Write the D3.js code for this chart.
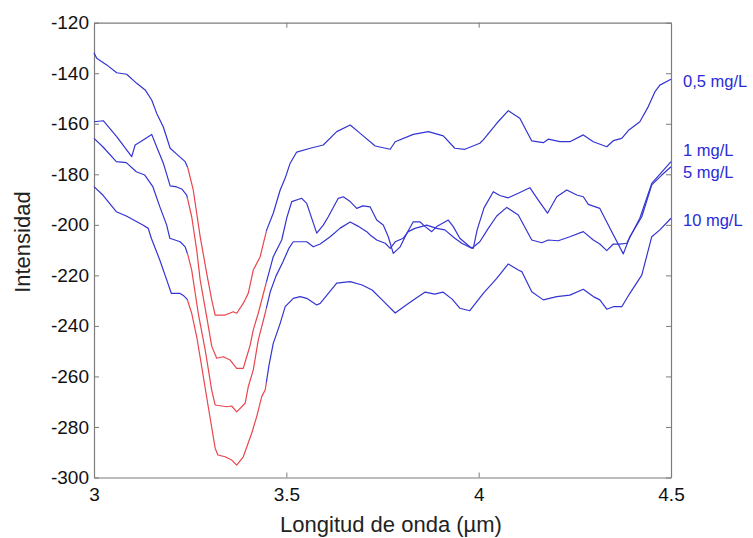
<!DOCTYPE html>
<html>
<head>
<meta charset="utf-8">
<script src="https://cdnjs.cloudflare.com/ajax/libs/d3/7.8.5/d3.min.js"></script>
<style>
  html, body { margin: 0; padding: 0; background: #fff; }
  svg { display: block; font-family: "Liberation Sans", Arial, Helvetica, sans-serif; }
</style>
</head>
<body>
<svg id="chart" width="753" height="538"></svg>
<script>
// Spectral response (intensity vs wavelength) for four concentrations.
const seriesNames = ["0,5 mg/L", "1 mg/L", "5 mg/L", "10 mg/L"];

const wavelength05 = [3.000,3.007,3.033,3.059,3.085,3.111,3.133,3.150,3.163,3.180,3.198,3.215,3.237,3.244,3.258,3.276,3.293,3.306,3.315,3.341,3.362,3.371,3.388,3.401,3.414,3.432,3.449,3.466,3.484,3.497,3.510,3.527,3.562,3.596,3.631,3.666,3.692,3.731,3.770,3.783,3.830,3.869,3.908,3.938,3.964,4.003,4.012,4.047,4.077,4.107,4.138,4.168,4.181,4.211,4.237,4.272,4.298,4.333,4.350,4.372,4.389,4.419,4.441,4.458,4.471,4.500];
const intensity05 = [-131.9,-134.1,-136.7,-139.8,-140.4,-144.0,-146.6,-150.6,-155.9,-161.2,-169.7,-172.0,-175.0,-177.5,-186.2,-204.7,-219.2,-229.7,-235.7,-235.7,-234.4,-235.0,-231.1,-227.1,-217.9,-212.6,-202.0,-195.4,-186.2,-181.5,-175.6,-171.2,-169.7,-168.4,-163.1,-160.5,-163.8,-168.8,-170.1,-167.1,-164.2,-163.1,-164.8,-169.7,-170.1,-167.7,-166.4,-159.8,-154.8,-157.8,-166.8,-167.5,-166.1,-167.1,-167.1,-164.4,-167.1,-169.1,-166.7,-165.8,-162.7,-159.2,-153.2,-147.4,-144.7,-142.4];

const wavelength1 = [3.000,3.024,3.059,3.098,3.107,3.128,3.150,3.163,3.180,3.198,3.215,3.228,3.241,3.254,3.267,3.276,3.293,3.306,3.319,3.336,3.354,3.371,3.388,3.397,3.406,3.414,3.427,3.445,3.466,3.488,3.501,3.514,3.540,3.553,3.579,3.596,3.609,3.635,3.648,3.666,3.683,3.699,3.718,3.735,3.752,3.765,3.778,3.796,3.813,3.830,3.847,3.861,3.878,3.891,3.921,3.934,3.951,3.977,3.986,3.996,4.014,4.038,4.055,4.077,4.103,4.133,4.155,4.179,4.203,4.229,4.255,4.272,4.285,4.315,4.346,4.376,4.393,4.424,4.450,4.476,4.500];
const intensity1 = [-159.2,-158.8,-165.1,-173.0,-168.4,-166.4,-164.2,-169.2,-175.5,-184.6,-185.0,-185.8,-188.2,-196.8,-210.0,-221.8,-236.4,-248.0,-252.8,-252.2,-253.5,-256.8,-256.8,-252.2,-247.6,-241.6,-235.0,-224.5,-212.6,-206.0,-197.3,-190.8,-189.5,-191.5,-203.3,-200.1,-196.8,-189.5,-188.9,-190.8,-193.5,-192.5,-192.9,-198.1,-200.1,-204.7,-211.3,-208.7,-203.4,-198.8,-198.8,-200.7,-202.7,-200.7,-198.1,-200.7,-205.3,-208.7,-209.3,-202.0,-193.3,-186.9,-188.4,-189.3,-187.5,-185.3,-190.2,-195.4,-188.9,-186.2,-188.2,-188.9,-191.9,-193.5,-202.7,-211.5,-204.7,-196.8,-184.2,-180.3,-177.0];

const wavelength5 = [3.000,3.023,3.058,3.084,3.110,3.132,3.153,3.171,3.189,3.197,3.224,3.237,3.244,3.254,3.271,3.289,3.306,3.315,3.345,3.358,3.371,3.393,3.401,3.414,3.427,3.445,3.458,3.473,3.491,3.507,3.518,3.553,3.570,3.588,3.614,3.640,3.666,3.686,3.709,3.718,3.735,3.757,3.770,3.783,3.804,3.817,3.834,3.865,3.891,3.912,3.938,3.956,3.982,4.003,4.025,4.047,4.073,4.103,4.138,4.164,4.181,4.207,4.237,4.272,4.298,4.315,4.333,4.350,4.367,4.385,4.419,4.450,4.500];
const intensity5 = [-165.8,-169.1,-175.0,-175.4,-179.0,-180.3,-184.9,-192.8,-200.1,-205.3,-206.7,-208.7,-211.9,-217.9,-235.0,-249.5,-265.4,-271.3,-272.0,-271.7,-274.0,-270.6,-264.1,-257.5,-245.6,-235.0,-226.6,-220.3,-214.7,-209.2,-206.7,-206.7,-208.7,-207.6,-204.7,-201.3,-198.9,-200.5,-202.7,-204.0,-206.0,-207.3,-209.3,-206.7,-205.3,-202.7,-201.4,-200.1,-201.4,-202.0,-205.3,-207.3,-209.3,-206.7,-201.4,-196.5,-193.1,-196.1,-206.0,-207.1,-206.0,-206.3,-204.7,-202.7,-206.0,-207.6,-210.2,-207.6,-207.6,-207.3,-197.4,-183.6,-175.0];

const wavelength10 = [3.000,3.023,3.058,3.084,3.127,3.141,3.149,3.171,3.189,3.201,3.223,3.234,3.242,3.254,3.267,3.280,3.297,3.315,3.322,3.341,3.358,3.371,3.388,3.410,3.423,3.436,3.445,3.455,3.466,3.484,3.497,3.518,3.536,3.553,3.579,3.588,3.631,3.666,3.697,3.723,3.749,3.783,3.808,3.834,3.861,3.886,3.907,3.931,3.951,3.977,4.012,4.047,4.077,4.103,4.112,4.138,4.168,4.203,4.237,4.272,4.298,4.315,4.333,4.350,4.372,4.393,4.424,4.450,4.471,4.500];
const intensity10 = [-184.9,-188.2,-194.8,-196.5,-200.1,-201.4,-205.3,-213.9,-221.8,-227.1,-227.1,-228.2,-229.4,-235.0,-244.3,-256.1,-272.0,-288.4,-291.1,-291.8,-293.1,-295.1,-291.8,-282.5,-275.9,-268.0,-265.4,-255.5,-246.9,-239.0,-232.4,-229.1,-228.4,-229.1,-231.7,-231.1,-223.1,-222.5,-223.8,-225.8,-229.7,-234.9,-232.1,-229.4,-226.6,-227.4,-226.6,-229.4,-233.0,-234.0,-227.1,-221.2,-215.5,-217.9,-218.5,-226.5,-229.7,-228.4,-227.8,-225.5,-228.4,-229.7,-233.4,-232.4,-232.4,-227.1,-219.9,-204.7,-202.0,-197.4];

// Absorption band drawn in red
const bandRange = [3.243, 3.448];

// Right-hand series labels, placed at these intensities
const labelIntensity = [-143, -170.3, -179.3, -198];

const xTicks = [3, 3.5, 4, 4.5];
const yTicks = [-300, -280, -260, -240, -220, -200, -180, -160, -140, -120];

const allSeries = [
  [wavelength05, intensity05],
  [wavelength1, intensity1],
  [wavelength5, intensity5],
  [wavelength10, intensity10]
];

const frame = { left: 94, right: 671, top: 22.7, bottom: 477.5 };
const blue = "#3434d2";
const red = "#e8464c";
const axisGray = "#7c7c7c";

const svg = d3.select("#chart");
svg.append("rect").attr("width", 753).attr("height", 538).attr("fill", "#fff");

const x = d3.scaleLinear().domain([3, 4.5]).range([frame.left, frame.right]);
const y = d3.scaleLinear().domain([-300, -120]).range([frame.bottom, frame.top]);

// Axes with inward ticks on all four sides
function styleAxis(g) {
  g.selectAll(".domain").attr("stroke", axisGray).attr("stroke-width", 1.2);
  g.selectAll(".tick line").attr("stroke", axisGray).attr("stroke-width", 1);
  g.selectAll(".tick text").attr("fill", "#111").style("font-size", "19px")
    .style("font-family", "\"Liberation Sans\", Arial, sans-serif");
}

svg.append("g").attr("transform", `translate(0,${frame.bottom})`)
  .call(d3.axisBottom(x).tickValues(xTicks).tickSize(-5).tickSizeOuter(0).tickPadding(10).tickFormat(d => String(d)))
  .call(styleAxis);
svg.append("g").attr("transform", `translate(0,${frame.top})`)
  .call(d3.axisTop(x).tickValues(xTicks).tickSize(-5).tickSizeOuter(0).tickFormat(""))
  .call(styleAxis);
svg.append("g").attr("transform", `translate(${frame.left},0)`)
  .call(d3.axisLeft(y).tickValues(yTicks).tickSize(-5).tickSizeOuter(0).tickPadding(5).tickFormat(d => String(d)))
  .call(styleAxis);
svg.append("g").attr("transform", `translate(${frame.right},0)`)
  .call(d3.axisRight(y).tickValues(yTicks).tickSize(-5).tickSizeOuter(0).tickFormat(""))
  .call(styleAxis);

// Split each curve into blue / red / blue pieces around the band
function interpAt(xs, ys, xv) {
  for (let i = 1; i < xs.length; i++) {
    if (xs[i] >= xv) {
      const t = (xv - xs[i - 1]) / (xs[i] - xs[i - 1]);
      return ys[i - 1] + t * (ys[i] - ys[i - 1]);
    }
  }
  return ys[ys.length - 1];
}
function pieces(xs, ys) {
  const [a, b] = bandRange;
  const pts = xs.map((v, i) => [v, ys[i]]);
  const ya = interpAt(xs, ys, a), yb = interpAt(xs, ys, b);
  const before = pts.filter(p => p[0] < a).concat([[a, ya]]);
  const inside = [[a, ya]].concat(pts.filter(p => p[0] > a && p[0] < b)).concat([[b, yb]]);
  const after = [[b, yb]].concat(pts.filter(p => p[0] > b));
  return [[before, blue], [inside, red], [after, blue]];
}

const line = d3.line().x(d => x(d[0])).y(d => y(d[1]));
const plot = svg.append("g");
allSeries.forEach(([xs, ys]) => {
  pieces(xs, ys).forEach(([pts, color]) => {
    plot.append("path").attr("d", line(pts)).attr("fill", "none")
      .attr("stroke", color).attr("stroke-width", 1.2).attr("stroke-linejoin", "round");
  });
});

// Series labels to the right of the frame
svg.append("g").selectAll("text").data(seriesNames).join("text")
  .attr("x", 683).attr("y", (d, i) => y(labelIntensity[i])).attr("dy", "0.35em")
  .attr("fill", "#2a2ad8").style("font-size", "16.5px").text(d => d);

// Axis titles
svg.append("text").attr("x", 391).attr("y", 532).attr("text-anchor", "middle")
  .attr("fill", "#222").style("font-size", "22px").text("Longitud de onda (µm)");
svg.append("text").attr("transform", `translate(30,${(frame.top + frame.bottom) / 2 - 8}) rotate(-90)`)
  .attr("text-anchor", "middle").attr("fill", "#222").style("font-size", "22px").text("Intensidad");
</script>
</body>
</html>
